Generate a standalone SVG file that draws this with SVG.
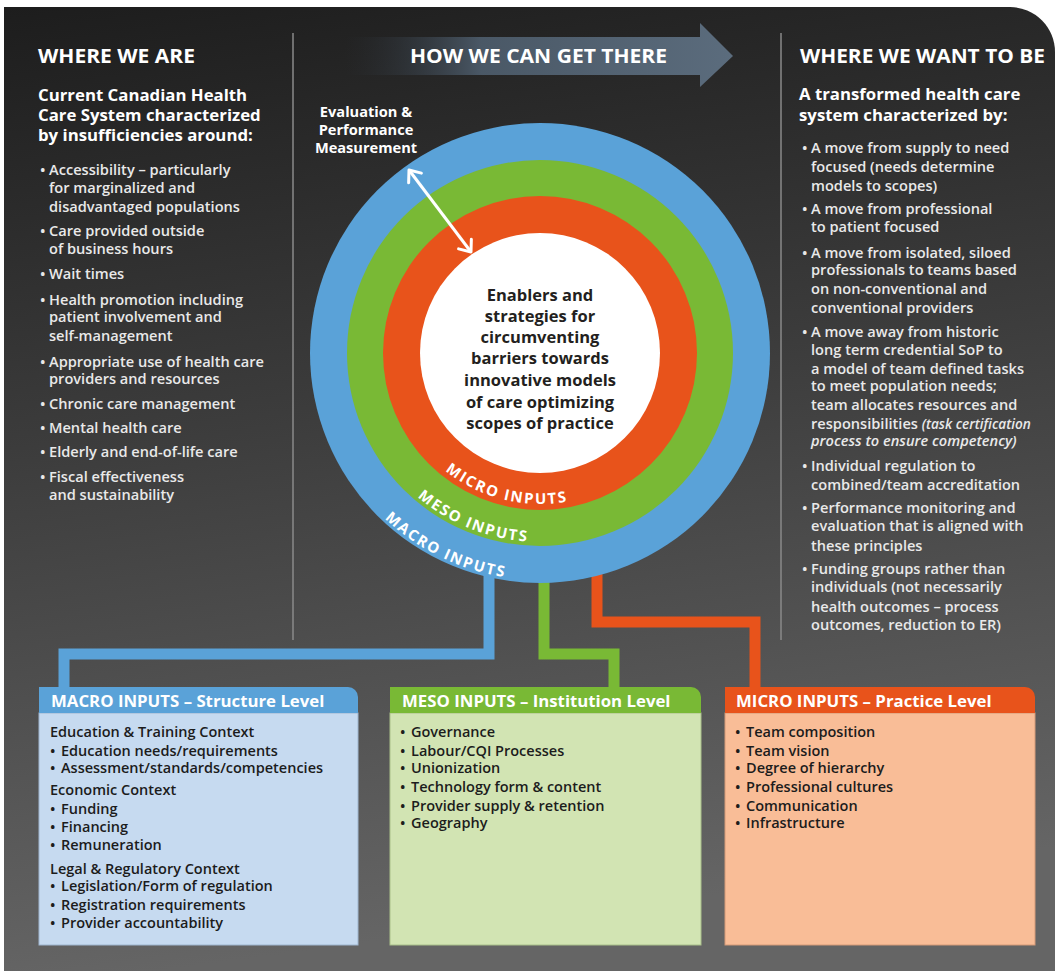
<svg xmlns="http://www.w3.org/2000/svg" width="1055" height="971" viewBox="0 0 1055 971">
<defs>
<linearGradient id="bg" x1="0" y1="0" x2="0.15" y2="1">
<stop offset="0" stop-color="#1d1d1d"/>
<stop offset="0.45" stop-color="#3c3c3c"/>
<stop offset="1" stop-color="#656565"/>
</linearGradient>
<linearGradient id="arrowGrad" x1="0" y1="0" x2="1" y2="0">
<stop offset="0" stop-color="#2a2f35" stop-opacity="0"/>
<stop offset="0.35" stop-color="#4a5866"/>
<stop offset="1" stop-color="#5b6c7d"/>
</linearGradient>
<marker id="chev" viewBox="0 0 20 20" refX="12" refY="10" markerWidth="20" markerHeight="20" markerUnits="userSpaceOnUse" orient="auto-start-reverse">
<path d="M2,2 L12,10 L2,18" fill="none" stroke="#ffffff" stroke-width="3" stroke-linecap="round" stroke-linejoin="round"/>
</marker>
<path id="arcMicro" d="M394.84,394.62 A151,151 0 0 0 648.62,457.90"/>
<path id="arcMeso" d="M352.84,379.30 A189,189 0 0 0 656.36,501.93"/>
<path id="arcMacro" d="M313.55,368.84 A227,227 0 0 0 666.93,541.19"/>
</defs>
<style>
text{font-family:"Open Sans","Liberation Sans",sans-serif;}
.h1{font-size:20px;font-weight:700;fill:#ffffff;}
.lead{font-size:16.8px;font-weight:700;fill:#ffffff;}
.li{font-size:14.6px;font-weight:600;fill:#e9e9e9;}
.ctr{font-size:16.5px;font-weight:700;fill:#231f20;text-anchor:middle;}
.eval{font-size:14.6px;font-weight:700;fill:#ffffff;text-anchor:middle;}
.ring{font-size:15px;font-weight:700;fill:#ffffff;letter-spacing:1.8px;}
.bh{font-size:16.8px;font-weight:700;fill:#ffffff;}
.bt{font-size:14.5px;font-weight:600;fill:#1c1c1c;}
.sep{stroke:#8a8a8a;stroke-width:1.5;}
.conn{fill:none;stroke-width:11;stroke-linejoin:miter;}
</style>

<!-- background panel -->
<rect x="0" y="0" width="1055" height="971" fill="#ffffff"/>
<path d="M4,7 H1010 A45,45 0 0 1 1055,52 V971 H4 Z" fill="url(#bg)"/>

<g id="separators">
<line class="sep" x1="293" y1="33" x2="293" y2="640"/>
<line class="sep" x1="781" y1="33" x2="781" y2="640"/>
</g>

<g id="header-arrow">
<polygon points="345,37 700,37 700,23 733,56 700,87 700,75 345,75" fill="url(#arrowGrad)"/>
<text class="h1" x="410" y="63" textLength="257" lengthAdjust="spacingAndGlyphs">HOW WE CAN GET THERE</text>
</g>

<g id="where-we-are">
<text class="h1" x="38" y="63" textLength="157" lengthAdjust="spacingAndGlyphs">WHERE WE ARE</text>
<text class="lead" x="38" y="101">Current Canadian Health</text>
<text class="lead" x="38" y="121">Care System characterized</text>
<text class="lead" x="38" y="141">by insufficiencies around:</text>
<text class="li"><tspan x="40" y="175">•</tspan><tspan x="49" y="175">Accessibility – particularly</tspan></text>
<text class="li" x="49" y="193">for marginalized and</text>
<text class="li" x="49" y="212">disadvantaged populations</text>
<text class="li"><tspan x="40" y="236">•</tspan><tspan x="49" y="236">Care provided outside</tspan></text>
<text class="li" x="49" y="254">of business hours</text>
<text class="li"><tspan x="40" y="279">•</tspan><tspan x="49" y="279">Wait times</tspan></text>
<text class="li"><tspan x="40" y="305">•</tspan><tspan x="49" y="305">Health promotion including</tspan></text>
<text class="li" x="49" y="322">patient involvement and</text>
<text class="li" x="49" y="341">self-management</text>
<text class="li"><tspan x="40" y="367">•</tspan><tspan x="49" y="367">Appropriate use of health care</tspan></text>
<text class="li" x="49" y="384">providers and resources</text>
<text class="li"><tspan x="40" y="409">•</tspan><tspan x="49" y="409">Chronic care management</tspan></text>
<text class="li"><tspan x="40" y="433">•</tspan><tspan x="49" y="433">Mental health care</tspan></text>
<text class="li"><tspan x="40" y="457">•</tspan><tspan x="49" y="457">Elderly and end-of-life care</tspan></text>
<text class="li"><tspan x="40" y="482">•</tspan><tspan x="49" y="482">Fiscal effectiveness</tspan></text>
<text class="li" x="49" y="500">and sustainability</text>
</g>

<g id="where-we-want-to-be">
<text class="h1" x="800" y="63" textLength="245" lengthAdjust="spacingAndGlyphs">WHERE WE WANT TO BE</text>
<text class="lead" x="799" y="100">A transformed health care</text>
<text class="lead" x="799" y="121">system characterized by:</text>
<text class="li"><tspan x="802" y="153">•</tspan><tspan x="811" y="153">A move from supply to need</tspan></text>
<text class="li" x="811" y="172">focused (needs determine</text>
<text class="li" x="811" y="191">models to scopes)</text>
<text class="li"><tspan x="802" y="214">•</tspan><tspan x="811" y="214">A move from professional</tspan></text>
<text class="li" x="811" y="232">to patient focused</text>
<text class="li"><tspan x="802" y="258">•</tspan><tspan x="811" y="258">A move from isolated, siloed</tspan></text>
<text class="li" x="811" y="275">professionals to teams based</text>
<text class="li" x="811" y="294">on non-conventional and</text>
<text class="li" x="811" y="313">conventional providers</text>
<text class="li"><tspan x="802" y="337">•</tspan><tspan x="811" y="337">A move away from historic</tspan></text>
<text class="li" x="811" y="355">long term credential SoP to</text>
<text class="li" x="811" y="374">a model of team defined tasks</text>
<text class="li" x="811" y="391">to meet population needs;</text>
<text class="li" x="811" y="410">team allocates resources and</text>
<text class="li" x="811" y="429">responsibilities <tspan font-style="italic" font-size="13.6px">(task certification</tspan></text>
<text class="li" x="811" y="446" font-style="italic" font-size="13.6px">process to ensure competency)</text>
<text class="li"><tspan x="802" y="471">•</tspan><tspan x="811" y="471">Individual regulation to</tspan></text>
<text class="li" x="811" y="490">combined/team accreditation</text>
<text class="li"><tspan x="802" y="513">•</tspan><tspan x="811" y="513">Performance monitoring and</tspan></text>
<text class="li" x="811" y="531">evaluation that is aligned with</text>
<text class="li" x="811" y="551">these principles</text>
<text class="li"><tspan x="802" y="574">•</tspan><tspan x="811" y="574">Funding groups rather than</tspan></text>
<text class="li" x="811" y="592">individuals (not necessarily</text>
<text class="li" x="811" y="612">health outcomes – process</text>
<text class="li" x="811" y="630">outcomes, reduction to ER)</text>
</g>

<g id="connectors">
<path class="conn" stroke="#5aa2d8" d="M489,570 V654 H64 V690"/>
<path class="conn" stroke="#79b935" d="M544,540 V654 H614 V690"/>
<path class="conn" stroke="#e8531b" d="M597,500 V622 H755 V690"/>
</g>

<g id="rings">
<circle cx="540" cy="353" r="230" fill="#5aa2d8"/>
<circle cx="540" cy="353" r="193" fill="#79b935"/>
<circle cx="540" cy="353" r="157" fill="#e8531b"/>
<circle cx="540" cy="353" r="120" fill="#ffffff"/>
<text class="ring"><textPath href="#arcMicro" startOffset="50%" text-anchor="middle">MICRO INPUTS</textPath></text>
<text class="ring"><textPath href="#arcMeso" startOffset="50%" text-anchor="middle">MESO INPUTS</textPath></text>
<text class="ring"><textPath href="#arcMacro" startOffset="50%" text-anchor="middle">MACRO INPUTS</textPath></text>
</g>

<g id="center-text">
<text class="ctr" x="540" y="301">Enablers and</text>
<text class="ctr" x="540" y="322">strategies for</text>
<text class="ctr" x="540" y="343">circumventing</text>
<text class="ctr" x="540" y="364">barriers towards</text>
<text class="ctr" x="540" y="386">innovative models</text>
<text class="ctr" x="540" y="408">of care optimizing</text>
<text class="ctr" x="540" y="429">scopes of practice</text>
</g>

<g id="evaluation">
<text class="eval" x="366" y="117">Evaluation &amp;</text>
<text class="eval" x="366" y="135">Performance</text>
<text class="eval" x="366" y="153">Measurement</text>
<line x1="409" y1="170" x2="471" y2="252" stroke="#ffffff" stroke-width="3" marker-start="url(#chev)" marker-end="url(#chev)"/>
</g>

<g id="macro-box">
<rect x="39" y="713" width="319" height="232" fill="#c6daf0" stroke="#9fb6cf" stroke-width="1"/>
<path d="M39,687 H348 A10,10 0 0 1 358,697 V713 H39 Z" fill="#5aa2d8"/>
<text class="bh" x="51" y="707">MACRO INPUTS – Structure Level</text>
<text class="bt" x="50" y="737">Education &amp; Training Context</text>
<text class="bt"><tspan x="50" y="756">•</tspan><tspan x="61" y="756">Education needs/requirements</tspan></text>
<text class="bt"><tspan x="50" y="773">•</tspan><tspan x="61" y="773">Assessment/standards/competencies</tspan></text>
<text class="bt" x="50" y="795">Economic Context</text>
<text class="bt"><tspan x="50" y="814">•</tspan><tspan x="61" y="814">Funding</tspan></text>
<text class="bt"><tspan x="50" y="832">•</tspan><tspan x="61" y="832">Financing</tspan></text>
<text class="bt"><tspan x="50" y="850">•</tspan><tspan x="61" y="850">Remuneration</tspan></text>
<text class="bt" x="50" y="874">Legal &amp; Regulatory Context</text>
<text class="bt"><tspan x="50" y="891">•</tspan><tspan x="61" y="891">Legislation/Form of regulation</tspan></text>
<text class="bt"><tspan x="50" y="910">•</tspan><tspan x="61" y="910">Registration requirements</tspan></text>
<text class="bt"><tspan x="50" y="928">•</tspan><tspan x="61" y="928">Provider accountability</tspan></text>
</g>

<g id="meso-box">
<rect x="390" y="713" width="311" height="232" fill="#d2e4b3" stroke="#a9c08a" stroke-width="1"/>
<path d="M390,687 H691 A10,10 0 0 1 701,697 V713 H390 Z" fill="#79b935"/>
<text class="bh" x="402" y="707">MESO INPUTS – Institution Level</text>
<text class="bt"><tspan x="400" y="737">•</tspan><tspan x="411" y="737">Governance</tspan></text>
<text class="bt"><tspan x="400" y="756">•</tspan><tspan x="411" y="756">Labour/CQI Processes</tspan></text>
<text class="bt"><tspan x="400" y="773">•</tspan><tspan x="411" y="773">Unionization</tspan></text>
<text class="bt"><tspan x="400" y="792">•</tspan><tspan x="411" y="792">Technology form &amp; content</tspan></text>
<text class="bt"><tspan x="400" y="811">•</tspan><tspan x="411" y="811">Provider supply &amp; retention</tspan></text>
<text class="bt"><tspan x="400" y="828">•</tspan><tspan x="411" y="828">Geography</tspan></text>
</g>

<g id="micro-box">
<rect x="725" y="713" width="310" height="232" fill="#f9bd97" stroke="#d49a78" stroke-width="1"/>
<path d="M725,687 H1025 A10,10 0 0 1 1035,697 V713 H725 Z" fill="#e8531b"/>
<text class="bh" x="736" y="707">MICRO INPUTS – Practice Level</text>
<text class="bt"><tspan x="735" y="737">•</tspan><tspan x="746" y="737">Team composition</tspan></text>
<text class="bt"><tspan x="735" y="756">•</tspan><tspan x="746" y="756">Team vision</tspan></text>
<text class="bt"><tspan x="735" y="773">•</tspan><tspan x="746" y="773">Degree of hierarchy</tspan></text>
<text class="bt"><tspan x="735" y="792">•</tspan><tspan x="746" y="792">Professional cultures</tspan></text>
<text class="bt"><tspan x="735" y="811">•</tspan><tspan x="746" y="811">Communication</tspan></text>
<text class="bt"><tspan x="735" y="828">•</tspan><tspan x="746" y="828">Infrastructure</tspan></text>
</g>
</svg>
